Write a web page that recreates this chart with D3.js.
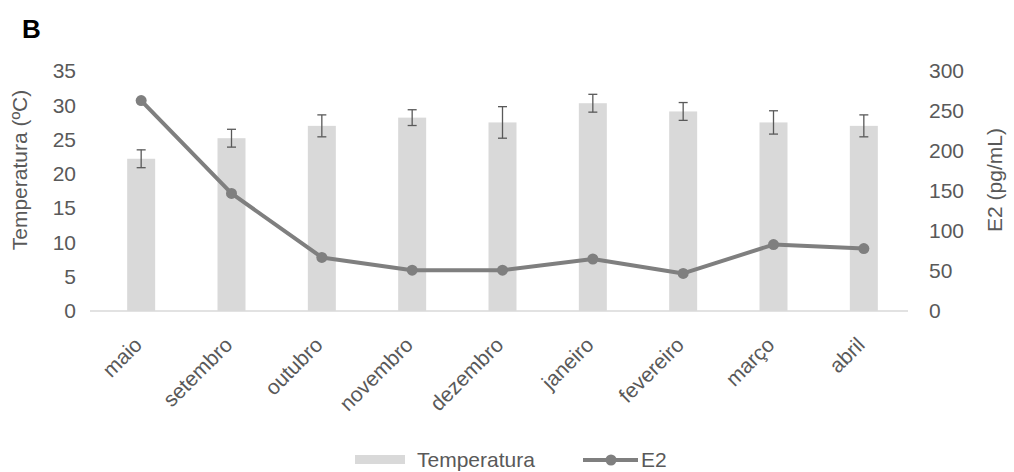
<!DOCTYPE html>
<html>
<head>
<meta charset="utf-8">
<script src="https://cdn.jsdelivr.net/npm/d3@7"></script>
<style>
  html, body { margin: 0; padding: 0; background: #fff; }
  svg { display: block; font-family: "Liberation Sans", Arial, sans-serif; }
</style>
</head>
<body>
<svg id="chart" width="1014" height="472"></svg>
<script>
// Monthly mean temperature (bars, ± SD) and E2 concentration (line)
const months = ["maio", "setembro", "outubro", "novembro", "dezembro", "janeiro", "fevereiro", "março", "abril"];
const temperatura = [22.2, 25.2, 27.0, 28.2, 27.5, 30.3, 29.1, 27.5, 27.0];
const temperaturaSD = [1.3, 1.3, 1.6, 1.15, 2.3, 1.3, 1.3, 1.7, 1.6];
const e2 = [263, 147, 67, 51, 51, 65, 47, 83, 78];
const tempTicks = [0, 5, 10, 15, 20, 25, 30, 35];
const e2Ticks = [0, 50, 100, 150, 200, 250, 300];

const svg = d3.select("#chart");
const textColor = "#595959";
const barColor = "#d9d9d9";
const lineColor = "#7f7f7f";
const fontSize = 21;

const x = d3.scaleBand().domain(months).range([96, 909]).paddingInner(0.69).paddingOuter(0.345);
const yT = d3.scaleLinear().domain([0, 35]).range([311, 71]);
const yE = d3.scaleLinear().domain([0, 300]).range([311, 71]);

// panel letter
svg.append("text").attr("x", 22).attr("y", 38)
  .attr("font-size", 26).attr("font-weight", "bold").attr("fill", "#000").text("B");

// baseline
svg.append("line")
  .attr("x1", x.range()[0] - 6).attr("x2", x.range()[1] - 1)
  .attr("y1", yT(0)).attr("y2", yT(0))
  .attr("stroke", barColor).attr("stroke-width", 1.5);

// left axis labels
const leftAxis = d3.axisLeft(yT).tickValues(tempTicks).tickSize(0).tickPadding(0);
svg.append("g").attr("transform", "translate(76,0)").call(leftAxis)
  .call(g => g.select(".domain").remove())
  .call(g => g.selectAll("text").attr("fill", textColor).attr("font-size", fontSize)
    .attr("font-family", "'Liberation Sans', Arial, sans-serif"));

// right axis labels
const rightAxis = d3.axisRight(yE).tickValues(e2Ticks).tickSize(0).tickPadding(0);
svg.append("g").attr("transform", "translate(929,0)").call(rightAxis)
  .call(g => g.select(".domain").remove())
  .call(g => g.selectAll("text").attr("fill", textColor).attr("font-size", fontSize)
    .attr("font-family", "'Liberation Sans', Arial, sans-serif"));

// axis titles
svg.append("text")
  .attr("transform", "translate(27,170) rotate(-90)")
  .attr("text-anchor", "middle").attr("fill", textColor).attr("font-size", fontSize)
  .text("Temperatura (ºC)");
svg.append("text")
  .attr("transform", "translate(1002,180) rotate(-90)")
  .attr("text-anchor", "middle").attr("fill", textColor).attr("font-size", fontSize)
  .text("E2 (pg/mL)");

// bars
svg.append("g").selectAll("rect").data(months).join("rect")
  .attr("x", d => x(d))
  .attr("width", x.bandwidth())
  .attr("y", (d, i) => yT(temperatura[i]))
  .attr("height", (d, i) => yT(0) - yT(temperatura[i]))
  .attr("fill", barColor);

// error bars
const eb = svg.append("g").attr("stroke", textColor).attr("stroke-width", 1.3);
months.forEach((m, i) => {
  const cx = x(m) + x.bandwidth() / 2;
  const hi = yT(temperatura[i] + temperaturaSD[i]);
  const lo = yT(temperatura[i] - temperaturaSD[i]);
  eb.append("line").attr("x1", cx).attr("x2", cx).attr("y1", hi).attr("y2", lo);
  eb.append("line").attr("x1", cx - 4.5).attr("x2", cx + 4.5).attr("y1", hi).attr("y2", hi);
  eb.append("line").attr("x1", cx - 4.5).attr("x2", cx + 4.5).attr("y1", lo).attr("y2", lo);
});

// E2 line
const line = d3.line()
  .x((d, i) => x(months[i]) + x.bandwidth() / 2)
  .y(d => yE(d));
svg.append("path").datum(e2)
  .attr("d", line).attr("fill", "none")
  .attr("stroke", lineColor).attr("stroke-width", 4).attr("stroke-linejoin", "round");
svg.append("g").selectAll("circle").data(e2).join("circle")
  .attr("cx", (d, i) => x(months[i]) + x.bandwidth() / 2)
  .attr("cy", d => yE(d))
  .attr("r", 5.5).attr("fill", lineColor);

// category labels
svg.append("g").selectAll("text").data(months).join("text")
  .attr("transform", d => `translate(${x(d) + x.bandwidth() / 2 - 3},${yT(0) + 30}) rotate(-45)`)
  .attr("text-anchor", "end").attr("dy", "0.35em")
  .attr("fill", textColor).attr("font-size", fontSize)
  .text(d => d);

// legend
const leg = svg.append("g");
leg.append("rect").attr("x", 355).attr("y", 455).attr("width", 50).attr("height", 9).attr("fill", barColor);
leg.append("text").attr("x", 417).attr("y", 460).attr("dy", "0.35em")
  .attr("fill", textColor).attr("font-size", fontSize).text("Temperatura");
leg.append("line").attr("x1", 583).attr("x2", 638).attr("y1", 460).attr("y2", 460)
  .attr("stroke", lineColor).attr("stroke-width", 4);
leg.append("circle").attr("cx", 611).attr("cy", 460).attr("r", 5.5).attr("fill", lineColor);
leg.append("text").attr("x", 641).attr("y", 460).attr("dy", "0.35em")
  .attr("fill", textColor).attr("font-size", fontSize).text("E2");
</script>
</body>
</html>
